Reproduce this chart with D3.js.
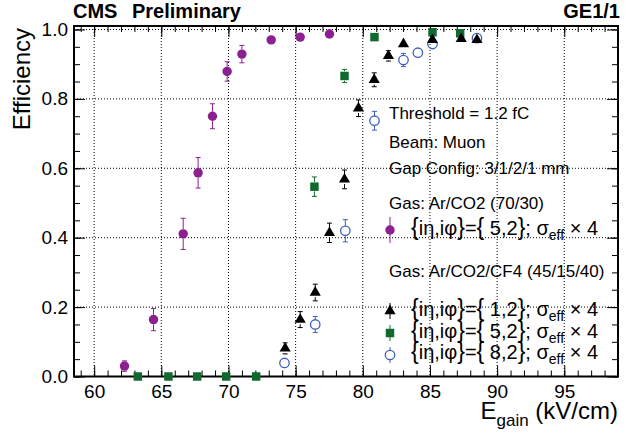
<!DOCTYPE html>
<html><head><meta charset="utf-8">
<script src="https://cdn.jsdelivr.net/npm/d3@7"></script>
<style>body{margin:0;background:#fff}svg{display:block}text{font-family:"Liberation Sans",Arial,Helvetica,sans-serif;fill:#000}</style>
</head><body><svg id="c" width="640" height="437"></svg>
<script>
// ---- data ----
const xMajorTicks = [60, 65, 70, 75, 80, 85, 90, 95];
const yMajorTicks = [0, 0.2, 0.4, 0.6, 0.8, 1.0];

const arco2X52   = [62.26, 64.42, 66.63, 67.74, 68.81, 69.90, 71.00, 73.18, 75.34, 77.52];
const arco2Y52   = [0.030, 0.164, 0.411, 0.587, 0.750, 0.879, 0.929, 0.970, 0.978, 0.987];
const arco2E52   = [0.015, 0.032, 0.045, 0.044, 0.036, 0.028, 0.025, 0.014, 0.006, 0.005];

const cf4X12 = [74.22, 75.34, 76.46, 77.52, 78.64, 79.68, 80.85, 81.91, 83.03, 85.19, 87.33, 88.50];
const cf4Y12 = [0.081, 0.164, 0.242, 0.414, 0.568, 0.773, 0.855, 0.924, 0.958, 0.970, 0.973, 0.970];
const cf4E12 = [0.016, 0.023, 0.024, 0.028, 0.027, 0.024, 0.020, 0.015, 0.012, 0.010, 0.008, 0.008];

const cf4X52 = [63.25, 65.53, 67.67, 69.83, 72.06, 76.40, 78.64, 80.87, 85.19, 87.25];
const cf4Y52 = [0, 0, 0, 0, 0, 0.547, 0.866, 0.978, 0.992, 0.989];
const cf4E52 = [0, 0, 0, 0, 0, 0.028, 0.019, 0.006, 0.004, 0.004];

const cf4X82 = [74.17, 76.46, 78.70, 80.87, 83.03, 84.10, 85.19, 88.50];
const cf4Y82 = [0.039, 0.150, 0.420, 0.737, 0.912, 0.933, 0.958, 0.975];
const cf4E82 = [0.008, 0.023, 0.032, 0.027, 0.019, 0.012, 0.010, 0.006];

const infoLines = ["Threshold = 1.2 fC", "Beam: Muon", "Gap Config: 3/1/2/1 mm"];
const gas1Label = "Gas: Ar/CO2 (70/30)";
const gas2Label = "Gas: Ar/CO2/CF4 (45/15/40)";
const entryIdx = ["5,2", "1,2", "5,2", "8,2"];

// ---- layout ----
const svg = d3.select("#c");
const L = 74, R = 618, T = 26, B = 376.5;
const x = d3.scaleLinear().domain([58.5, 99]).range([L, R]);
const y = d3.scaleLinear().domain([0, 1.01]).range([B, T]);

const PURPLE = "#8c2090", GREEN = "#11692f", BLUE = "#3d5ec0", BLACK = "#000";

// grid
const grid = svg.append("g");
grid.selectAll("line.vx").data(xMajorTicks).join("line")
  .attr("x1", d => x(d)).attr("x2", d => x(d)).attr("y1", T).attr("y2", B)
  .attr("stroke", "#000").attr("stroke-width", 1).attr("stroke-dasharray", "1,2");
grid.selectAll("line.hy").data(yMajorTicks.filter(d => d > 0)).join("line")
  .attr("x1", L).attr("x2", R).attr("y1", d => y(d)).attr("y2", d => y(d))
  .attr("stroke", "#000").attr("stroke-width", 1).attr("stroke-dasharray", "1,2");

// axes
const xMinor = d3.range(59, 99.01, 1);
const yMinor = d3.range(0, 1.001, 0.05);
function styleAxis(g) { g.select(".domain").remove(); g.selectAll("line").attr("stroke", "#000").attr("stroke-width", 1); g.selectAll("text").style("font-size", "19px").attr("fill", "#000"); }

svg.append("g").attr("transform", `translate(0,${B})`)
  .call(d3.axisBottom(x).tickValues(xMinor).tickSize(-6).tickFormat("")).call(styleAxis);
svg.append("g").attr("transform", `translate(0,${B})`)
  .call(d3.axisBottom(x).tickValues(xMajorTicks).tickSize(-11).tickPadding(8).tickFormat(d3.format("d"))).call(styleAxis);
svg.append("g").attr("transform", `translate(0,${T})`)
  .call(d3.axisTop(x).tickValues(xMinor).tickSize(-6).tickFormat("")).call(styleAxis);
svg.append("g").attr("transform", `translate(0,${T})`)
  .call(d3.axisTop(x).tickValues(xMajorTicks).tickSize(-11).tickFormat("")).call(styleAxis);

svg.append("g").attr("transform", `translate(${L},0)`)
  .call(d3.axisLeft(y).tickValues(yMinor).tickSize(-6).tickFormat("")).call(styleAxis);
svg.append("g").attr("transform", `translate(${L},0)`)
  .call(d3.axisLeft(y).tickValues(yMajorTicks).tickSize(-11).tickPadding(6).tickFormat(d3.format(".1f"))).call(styleAxis);
svg.append("g").attr("transform", `translate(${R},0)`)
  .call(d3.axisRight(y).tickValues(yMinor).tickSize(-6).tickFormat("")).call(styleAxis);
svg.append("g").attr("transform", `translate(${R},0)`)
  .call(d3.axisRight(y).tickValues(yMajorTicks).tickSize(-11).tickFormat("")).call(styleAxis);

// frame
svg.append("rect").attr("x", L).attr("y", T).attr("width", R - L).attr("height", B - T)
  .attr("fill", "none").attr("stroke", "#000").attr("stroke-width", 2);

// series drawing
function symSize(type) { return type === d3.symbolTriangle ? 54 : (type === d3.symbolSquare ? 72 : 70); }
function drawSeries(xs, ys, es, color, type, open) {
  const g = svg.append("g");
  const r = 4.7;
  xs.forEach((xv, i) => {
    const cx = x(xv), cy = y(ys[i]);
    const eUp = y(ys[i] + es[i]), eDn = y(ys[i] - es[i]);
    if (cy - eUp > r + 0.5) {
      g.append("line").attr("x1", cx).attr("x2", cx).attr("y1", eUp).attr("y2", cy - r).attr("stroke", color).attr("stroke-width", 1);
      g.append("line").attr("x1", cx).attr("x2", cx).attr("y1", cy + r).attr("y2", eDn).attr("stroke", color).attr("stroke-width", 1);
      g.append("line").attr("x1", cx - 2.5).attr("x2", cx + 2.5).attr("y1", eUp).attr("y2", eUp).attr("stroke", color).attr("stroke-width", 1);
      g.append("line").attr("x1", cx - 2.5).attr("x2", cx + 2.5).attr("y1", eDn).attr("y2", eDn).attr("stroke", color).attr("stroke-width", 1);
    }
    g.append("path").attr("transform", `translate(${cx},${cy})`)
      .attr("d", d3.symbol().type(type).size(symSize(type))())
      .attr("fill", open ? "none" : color).attr("stroke", open ? color : "none").attr("stroke-width", 1.3);
  });
}
drawSeries(arco2X52, arco2Y52, arco2E52, PURPLE, d3.symbolCircle, false);
drawSeries(cf4X52, cf4Y52, cf4E52, GREEN, d3.symbolSquare, false);
drawSeries(cf4X82, cf4Y82, cf4E82, BLUE, d3.symbolCircle, true);
drawSeries(cf4X12, cf4Y12, cf4E12, BLACK, d3.symbolTriangle, false);

// titles
svg.append("text").attr("x", 73).attr("y", 18).style("font-size", "20px").style("font-weight", "bold").text("CMS");
svg.append("text").attr("x", 132).attr("y", 18).style("font-size", "20px").style("font-weight", "bold").text("Preliminary");
svg.append("text").attr("x", 620).attr("y", 18).attr("text-anchor", "end").style("font-size", "20px").style("font-weight", "bold").text("GE1/1");

svg.append("text").attr("transform", "translate(30,28) rotate(-90)").attr("text-anchor", "end").style("font-size", "24px").text("Efficiency");

const xt = svg.append("text").attr("x", 618).attr("y", 419).attr("text-anchor", "end").style("font-size", "24px");
xt.append("tspan").text("E");
xt.append("tspan").attr("dy", 7).style("font-size", "17px").text("gain");
xt.append("tspan").attr("dy", -7).text(" (kV/cm)");

// legend
const lx = 389;
[119, 147.5, 174].forEach((by, i) => svg.append("text").attr("x", lx).attr("y", by).style("font-size", "17px").text(infoLines[i]));
svg.append("text").attr("x", lx).attr("y", 209).style("font-size", "17px").text(gas1Label);
svg.append("text").attr("x", lx).attr("y", 277).style("font-size", "17px").text(gas2Label);

function entry(my, by, color, type, open, half, idx) {
  svg.append("line").attr("x1", 390).attr("x2", 390).attr("y1", my - half).attr("y2", my + half).attr("stroke", color).attr("stroke-width", 1);
  svg.append("path").attr("transform", `translate(390,${my})`)
    .attr("d", d3.symbol().type(type).size(symSize(type))())
    .attr("fill", open ? "#fff" : color).attr("stroke", open ? color : "none").attr("stroke-width", 1.3);
  const t = svg.append("text").attr("x", 411).attr("y", by).style("font-size", "20px");
  const br = (s) => t.append("tspan").style("font-size", "23px").style("font-weight", "300").text(s);
  br("{");
  t.append("tspan").text("iη,iφ");
  br("}");
  t.append("tspan").text("=");
  br("{");
  t.append("tspan").text(" " + idx);
  br("}");
  t.append("tspan").text("; σ");
  t.append("tspan").attr("dy", 5).style("font-size", "14px").text("eff");
  t.append("tspan").attr("dy", -5).text(" × 4");
}
entry(230, 235, PURPLE, d3.symbolCircle, false, 13, entryIdx[0]);
entry(311, 316, BLACK, d3.symbolTriangle, false, 8, entryIdx[1]);
entry(333, 337.7, GREEN, d3.symbolSquare, false, 8, entryIdx[2]);
entry(355, 359.3, BLUE, d3.symbolCircle, true, 8, entryIdx[3]);
</script></body></html>
